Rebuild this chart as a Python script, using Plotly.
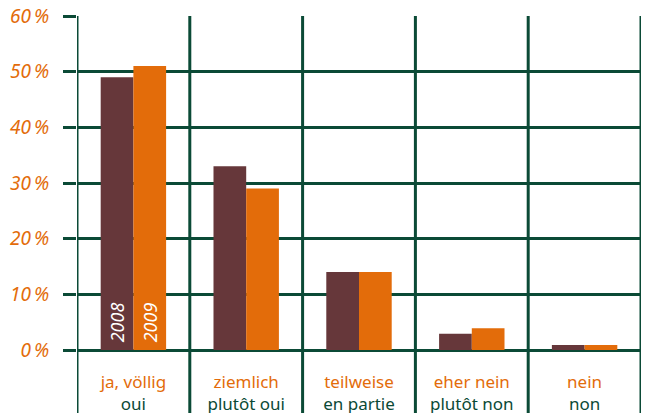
import plotly.graph_objects as go

categories_de = ["ja, völlig", "ziemlich", "teilweise", "eher nein", "nein"]
categories_fr = ["oui", "plutôt oui", "en partie", "plutôt non", "non"]
years = ["2008", "2009"]
values_2008 = [49, 33, 14, 2.9, 0.9]
values_2009 = [51, 29, 14, 3.9, 0.9]
y_ticks = [0, 10, 20, 30, 40, 50, 60]

ORANGE = "#E36C0A"
BROWN = "#66373A"
GREEN = "#0B4A36"
FONT = "Noto Sans"

x_idx = list(range(len(categories_de)))
tick_text = [
    f"<span style='color:{ORANGE}'>{de}</span><br><span style='color:{GREEN}'>{fr}</span>"
    for de, fr in zip(categories_de, categories_fr)
]

fig = go.Figure()
for name, vals, col in [(years[0], values_2008, BROWN), (years[1], values_2009, ORANGE)]:
    fig.add_trace(go.Bar(
        x=x_idx, y=vals, name=name, marker=dict(color=col, line=dict(width=0)),
        text=["\u00a0" + name] + [""] * (len(vals) - 1),
        textposition="inside", insidetextanchor="start", textangle=-90,
        textfont=dict(color="white", size=18, family=FONT, style="italic"),
        cliponaxis=False,
    ))

shapes = []
for i in range(len(categories_de) + 1):
    xv = i - 0.5
    shapes.append(dict(type="line", xref="x", yref="paper", x0=xv, x1=xv, y0=-0.2, y1=1,
                       line=dict(color=GREEN, width=3), layer="below"))

fig.update_layout(
    width=645, height=413,
    margin=dict(l=77, r=4, t=16, b=63, autoexpand=False),
    paper_bgcolor="white", plot_bgcolor="white",
    barmode="group", bargap=0.42, bargroupgap=0,
    showlegend=False,
    shapes=shapes,
    xaxis=dict(
        range=[-0.5, 4.5], tickvals=x_idx, ticktext=tick_text,
        showgrid=False, zeroline=False, showline=False, ticks="",
        tickfont=dict(family=FONT, size=17, color=GREEN),
        ticklabelstandoff=20, automargin=False,
    ),
    yaxis=dict(
        range=[0, 60], tickvals=y_ticks, ticktext=[f"{v}\u2009%" for v in y_ticks],
        showgrid=True, gridcolor=GREEN, gridwidth=3,
        zeroline=True, zerolinecolor=GREEN, zerolinewidth=3,
        showline=False, automargin=False,
        ticks="outside", ticklen=13, tickwidth=3, tickcolor=GREEN,
        tickfont=dict(family=FONT, size=19, color=ORANGE, style="italic"),
        ticklabelstandoff=10,
    ),
)

fig.write_html("out.html", config={"displayModeBar": False},
               post_script="document.body.style.margin='0';document.body.style.padding='0';")
